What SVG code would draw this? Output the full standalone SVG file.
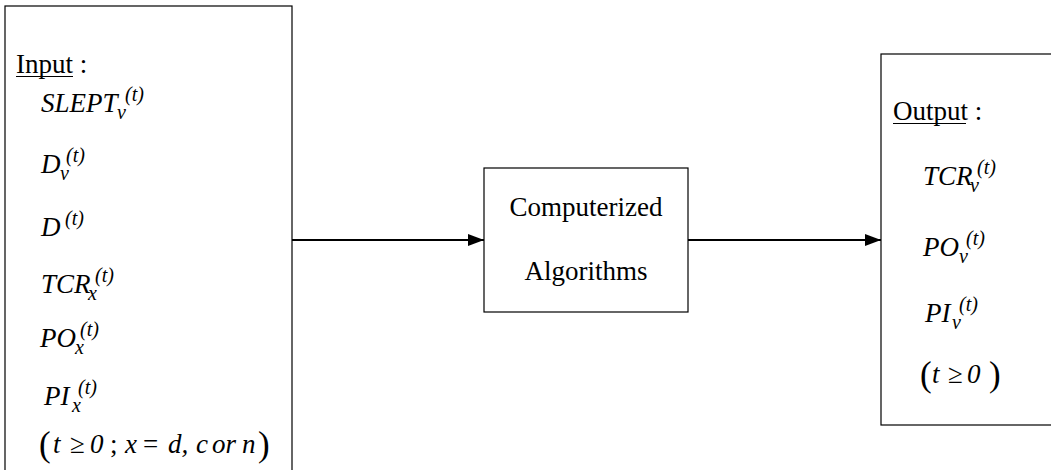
<svg xmlns="http://www.w3.org/2000/svg" width="1051" height="470" viewBox="0 0 1051 470" font-family="'Liberation Serif', 'Times New Roman', Tinos, 'DejaVu Serif', serif">
<defs>
<style>
.box{fill:#fff;stroke:#000;stroke-width:1.2}
.t{font-size:27px;fill:#000}
.i{font-style:italic}
.s{font-size:20px}
.p{font-size:35px}
.u{stroke:#000;stroke-width:1.2}
.conn{stroke:#000;stroke-width:2;fill:none}
</style>
<marker id="ah" markerWidth="16" markerHeight="12" refX="16" refY="6" orient="auto" markerUnits="userSpaceOnUse">
<path d="M0,0 L16,6 L0,12 Z" fill="#000"/>
</marker>
</defs>
<rect width="1051" height="470" fill="#fff"/>
<g id="input">
<rect class="box" x="5" y="6" width="287" height="480"/>
<text class="t" x="16" y="73">Input :</text>
<line class="u" x1="16" y1="76.5" x2="73" y2="76.5"/>
<text class="t i" x="41" y="112">SLEPT<tspan class="s" x="117" y="119">v</tspan><tspan class="s" x="125" y="101">(t)</tspan></text>
<text class="t i" x="41" y="173">D<tspan class="s" x="60" y="180">v</tspan><tspan class="s" x="66" y="162">(t)</tspan></text>
<text class="t i" x="41" y="236">D<tspan class="s" x="65" y="225">(t)</tspan></text>
<text class="t i" x="41" y="293">TCR<tspan class="s" x="88" y="300">x</tspan><tspan class="s" x="95" y="282">(t)</tspan></text>
<text class="t i" x="40" y="347">PO<tspan class="s" x="75" y="354">x</tspan><tspan class="s" x="80" y="336">(t)</tspan></text>
<text class="t i" x="44" y="405">PI<tspan class="s" x="72" y="412">x</tspan><tspan class="s" x="78" y="394">(t)</tspan></text>
<text class="t"><tspan class="p" x="39" y="456">(</tspan><tspan class="i" x="53" y="453">t</tspan><tspan x="70" y="453">≥</tspan><tspan class="i" x="90" y="453">0</tspan><tspan x="110" y="453">;</tspan><tspan class="i" x="125" y="453">x</tspan><tspan x="143" y="453">=</tspan><tspan class="i" x="168" y="453">d,</tspan><tspan class="i" x="196" y="453">c</tspan><tspan class="i" x="212" y="453">or</tspan><tspan class="i" x="242" y="453">n</tspan><tspan class="p" x="258" y="456">)</tspan></text>
</g>
<g id="algorithms">
<rect class="box" x="484" y="168" width="204" height="144"/>
<text class="t" x="586" y="216" text-anchor="middle">Computerized</text>
<text class="t" x="586" y="280" text-anchor="middle">Algorithms</text>
</g>
<g id="output">
<rect class="box" x="881" y="54" width="200" height="371"/>
<text class="t" x="893" y="120">Output :</text>
<line class="u" x1="893" y1="123.5" x2="966" y2="123.5"/>
<text class="t i" x="923" y="185">TCR<tspan class="s" x="970" y="192">v</tspan><tspan class="s" x="977" y="174">(t)</tspan></text>
<text class="t i" x="923" y="256">PO<tspan class="s" x="959" y="263">v</tspan><tspan class="s" x="966" y="245">(t)</tspan></text>
<text class="t i" x="925" y="322">PI<tspan class="s" x="952" y="329">v</tspan><tspan class="s" x="959" y="311">(t)</tspan></text>
<text class="t"><tspan class="p" x="920" y="386">(</tspan><tspan class="i" x="932" y="383">t</tspan><tspan x="948" y="383">≥</tspan><tspan class="i" x="967" y="383">0</tspan><tspan class="p" x="989" y="386">)</tspan></text>
</g>
<g id="connectors">
<line class="conn" x1="292" y1="240" x2="484" y2="240" marker-end="url(#ah)"/>
<line class="conn" x1="688" y1="240" x2="881" y2="240" marker-end="url(#ah)"/>
</g>
</svg>
